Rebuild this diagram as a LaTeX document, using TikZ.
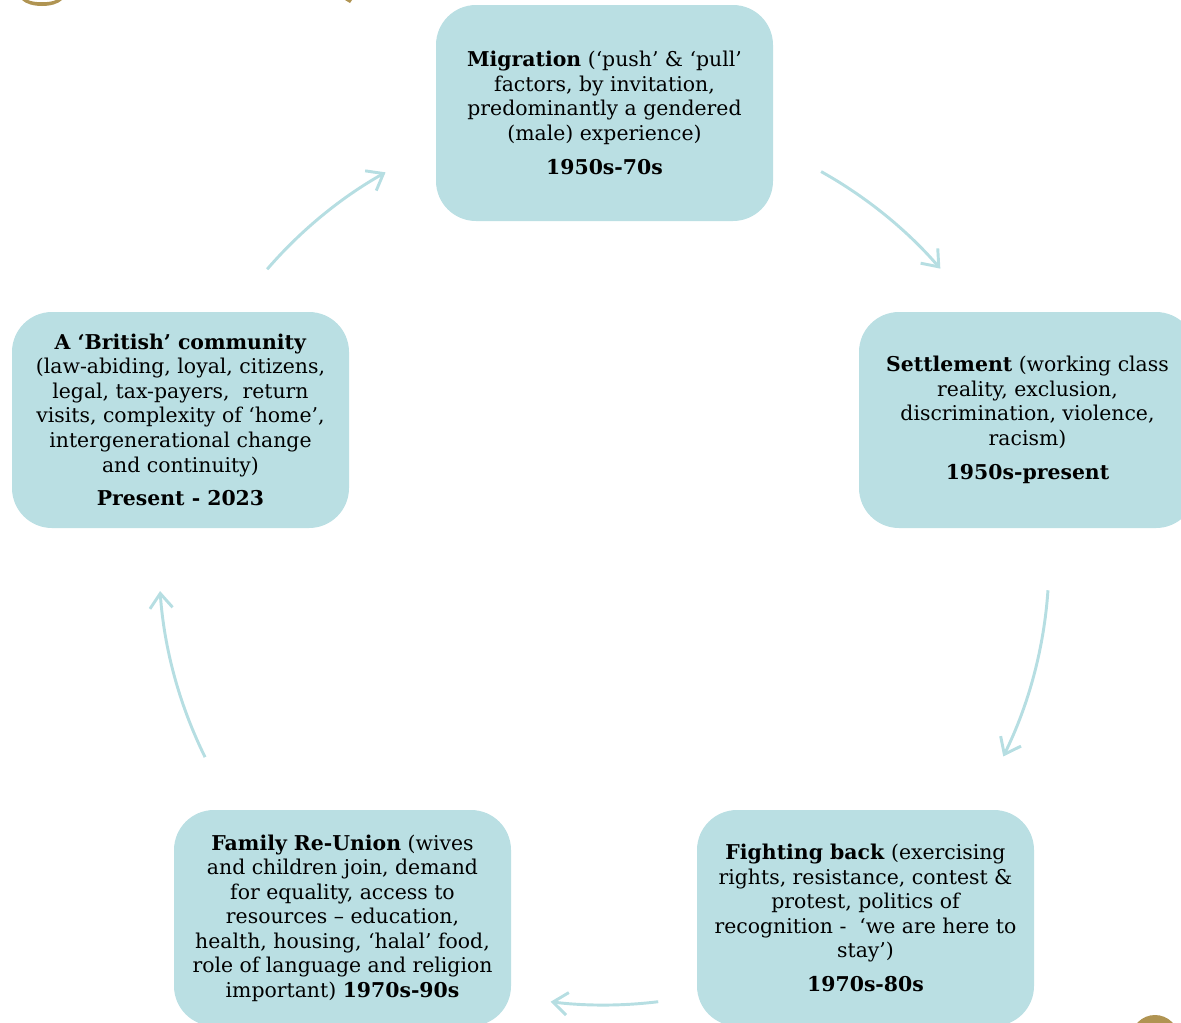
\documentclass[tikz,border=0pt]{standalone}
\usepackage{fontspec}
\setmainfont{DejaVu Serif}
\usetikzlibrary{arrows.meta}
\definecolor{boxfill}{RGB}{186,223,227}
\definecolor{arrowcol}{RGB}{182,222,226}
\definecolor{goldc}{RGB}{176,148,82}
\begin{document}
\begin{tikzpicture}[x=0.75pt,y=0.75pt,
  stage/.style={draw=none, fill=boxfill, rounded corners=30pt,
    minimum width=252.75pt, minimum height=162pt, align=center,
    font=\fontsize{15.3}{18.4}\selectfont, inner sep=2pt},
  cyc/.style={draw=arrowcol, line width=2.2pt,
    -{Straight Barb[length=11pt,width=17pt]}}]
\useasboundingbox (0,0) rectangle (1181,-1022);
\clip (0,0) rectangle (1181,-1022);

% stray gold fragments at the edges
\fill[goldc] (22,0) .. controls (30,-8) and (54,-8) .. (62,0) -- (56,0)
  .. controls (50,-3) and (34,-3) .. (28,0) -- cycle;
\fill[goldc] (345,0) -- (352,0) -- (350,-3) -- cycle;
\fill[goldc] (1155,-1039) circle[radius=18pt];

\node[stage] (mig) at (604.5,-113) {\textbf{Migration} (‘push’ \& ‘pull’\\
  factors, by invitation,\\ predominantly a gendered\\ (male) experience)\\[7pt]
  \textbf{1950s-70s}};

\node[stage] (set) at (1027.5,-420) {\textbf{Settlement} (working class\\
  reality, exclusion,\\ discrimination, violence,\\ racism)\\[7pt]
  \textbf{1950s-present}};

\node[stage] (fig) at (865.5,-918) {\textbf{Fighting back} (exercising\\
  rights, resistance, contest \&\\ protest, politics of\\
  recognition -\ \ ‘we are here to\\ stay’)\\[7pt] \textbf{1970s-80s}};

\node[stage] (fam) at (342.5,-918) {\textbf{Family Re-Union} (wives\\
  and children join, demand\\ for equality, access to\\
  resources – education,\\ health, housing, ‘halal’ food,\\
  role of language and religion\\ important) \textbf{1970s-90s}};

\node[stage] (bri) at (180.5,-420) {\textbf{A ‘British’ community}\\
  (law-abiding, loyal, citizens,\\ legal, tax-payers,\ \ return\\
  visits, complexity of ‘home’,\\ intergenerational change\\
  and continuity)\\[7pt] \textbf{Present - 2023}};

% cycle arrows: arcs of one circle round the centre
\coordinate (ctr) at (604,-560);
\coordinate (a1) at ([shift={(139.2:333.75pt)}]ctr);
\coordinate (a2) at ([shift={(60.8:333.75pt)}]ctr);
\coordinate (a3) at ([shift={(-3.9:333.75pt)}]ctr);
\coordinate (a4) at ([shift={(-83:333.75pt)}]ctr);
\coordinate (a5) at ([shift={(206.3:333.75pt)}]ctr);
\draw[cyc] (a1) arc[start angle=139.2, end angle=119.4, radius=333.75pt];
\draw[cyc] (a2) arc[start angle=60.8, end angle=40.9, radius=333.75pt];
\draw[cyc] (a3) arc[start angle=-3.9, end angle=-26.2, radius=333.75pt];
\draw[cyc] (a4) arc[start angle=-83, end angle=-96.9, radius=333.75pt];
\draw[cyc] (a5) arc[start angle=206.3, end angle=184, radius=333.75pt];
\end{tikzpicture}
\end{document}
